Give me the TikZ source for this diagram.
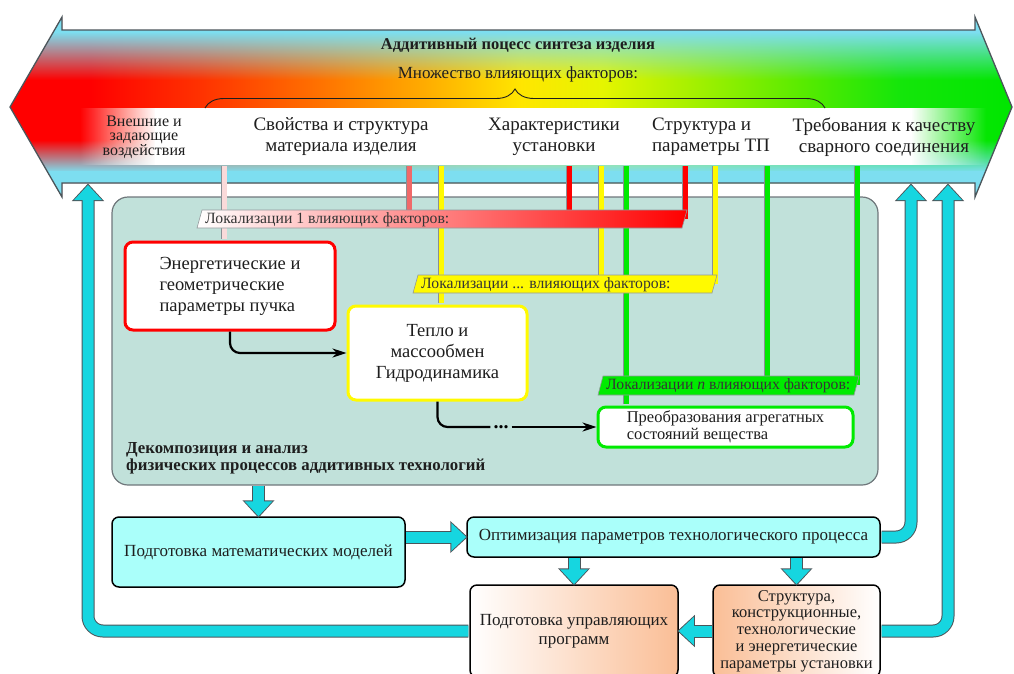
\documentclass[tikz,border=0pt]{standalone}
\usepackage{fontspec}
\setmainfont{Liberation Serif}
\usetikzlibrary{arrows.meta,decorations.pathreplacing,fadings}

\definecolor{inkgray}{RGB}{30,30,30}
\definecolor{edgegray}{RGB}{75,85,90}
\definecolor{tealbg}{RGB}{193,225,218}
\definecolor{boxcyan}{RGB}{170,255,250}
\definecolor{flowcyan}{RGB}{22,214,224}
\definecolor{skyband}{RGB}{125,222,240}
\definecolor{peach}{RGB}{250,190,150}
\definecolor{factpink}{RGB}{250,218,218}
\definecolor{factsalmon}{RGB}{240,105,105}
\definecolor{factred}{RGB}{255,0,0}
\definecolor{factyellow}{RGB}{255,250,0}
\definecolor{factgreen}{RGB}{0,235,0}
\definecolor{procA}{RGB}{255,50,0}
\definecolor{procB}{RGB}{255,120,0}
\definecolor{procC}{RGB}{255,170,0}
\definecolor{procD}{RGB}{255,230,0}
\definecolor{procE}{RGB}{230,245,0}
\definecolor{procF}{RGB}{160,240,0}
\definecolor{procG}{RGB}{90,235,0}
\definecolor{procH}{RGB}{20,230,10}
\definecolor{procI}{RGB}{0,230,0}

\pgfdeclarehorizontalshading{processshade}{100bp}{color(0bp)=(factred); color(29bp)=(factred);
  color(34.5bp)=(procA); color(41bp)=(procB); color(45.5bp)=(procC); color(50.5bp)=(procD);
  color(54.5bp)=(procE); color(59.4bp)=(procF); color(64.4bp)=(procG); color(69.4bp)=(procH);
  color(75bp)=(procI); color(100bp)=(procI)}

\tikzfading[name=fadedown, top color=transparent!0, bottom color=transparent!100]
\tikzfading[name=fadeup, top color=transparent!100, bottom color=transparent!0]
\tikzfading[name=fadein, left color=transparent!100, right color=transparent!0]
\tikzfading[name=fadeout, left color=transparent!0, right color=transparent!100]

\tikzset{
  procarrow/.style={insert path={(10,107) -- (62,17) -- (62,30) -- (975,30) -- (975,17)
      -- (1012,107) -- (975,197) -- (975,183) -- (62,183) -- (62,197) -- cycle}},
  factortext/.style={font=\fontsize{19}{21}\selectfont, text=inkgray, align=center, inner sep=0pt},
  localtext/.style={font=\fontsize{15.7}{17}\selectfont, text=inkgray!90, anchor=west, inner sep=0pt},
  framebox/.style={draw=edgegray!80, line width=1.2pt, fill=tealbg, rounded corners=16pt},
  roundbox/.style={draw=#1, line width=3pt, fill=white, rounded corners=8pt,
      font=\fontsize{18.5}{21}\selectfont, text=inkgray},
  planbox/.style={draw=black, line width=1.5pt, rounded corners=7pt,
      font=\fontsize{17}{19}\selectfont, text=inkgray, align=center},
  factorline/.style={draw=#1, line width=5pt, preaction={draw=edgegray!65, line width=6.6pt}},
  bar/.style={draw=edgegray!60, line width=0.6pt},
  flowarrow/.style={draw=black, line width=2.2pt, -{Stealth[length=14pt,width=9pt]}},
  flowline/.style={draw=black, line width=2.2pt},
  blockarrow/.style={draw=flowcyan, line width=11pt, -{Triangle[width=27pt,length=15pt]},
      preaction={draw=edgegray, line width=13pt, -{Triangle[width=31pt,length=17.5pt]}, shorten >=-1.5pt}}
}

\begin{document}
\begin{tikzpicture}[x=1pt, y=-1pt]
\path[use as bounding box] (0,0) rectangle (1014,673);
\clip (0,0) rectangle (1014,673);

% decomposition frame
\node[framebox, minimum width=766pt, minimum height=288pt] (frame) at (495,341) {};

% the process arrow
\shade[shading=processshade, procarrow];
\begin{scope}
  \clip[procarrow];
  \fill[skyband] (0,10) rectangle (1014,33);
  \fill[skyband, path fading=fadedown] (0,32) rectangle (1014,80);
  \fill[skyband, path fading=fadeup] (0,140) rectangle (1014,172);
  \fill[skyband] (0,171) rectangle (1014,200);
\end{scope}
\draw[edgegray, line width=1.3pt, procarrow];
\fill[white, path fading=fadein] (80,108) rectangle (156,165);
\fill[white] (155,108) rectangle (912,165);
\fill[white, path fading=fadeout] (911,108) rectangle (986,165);
\draw[decorate, decoration={brace, amplitude=19pt}, line width=0.9pt, inkgray] (205,108) -- (825,108);

\node[font=\bfseries\fontsize{16.5}{18}\selectfont, text=inkgray] (title) at (518,45) {Аддитивный поцесс синтеза изделия};
\node[font=\fontsize{17}{19}\selectfont, text=inkgray] (factset) at (518,74) {Множество влияющих факторов:};
\node[factortext, font=\fontsize{16}{14.5}\selectfont] (external) at (144,137) {Внешние и\\задающие\\воздействия};
\node[factortext] (material) at (341,137) {Свойства и структура\\материала изделия};
\node[factortext] (device) at (554,137) {Характеристики\\установки};
\node[factortext, align=left] (tpparam) at (711,137) {Структура и\\параметры ТП};
\node[factortext] (quality) at (884,137) {Требования к качеству\\сварного соединения};

% physical processes
\node[roundbox=factred, minimum width=210pt, minimum height=88pt, align=left] (beam) at (230,286) {Энергетические и\\геометрические\\параметры пучка};
\node[roundbox=factyellow, minimum width=179pt, minimum height=94pt, align=center] (heat) at (437.5,353) {Тепло и\\массообмен\\Гидродинамика};
\node[roundbox=factgreen, font=\fontsize{16.5}{17.5}\selectfont, minimum width=255pt, minimum height=40pt, align=left] (phase) at (725.5,427) {Преобразования агрегатных\\состояний вещества};

% influence lines
\draw[factorline=factpink] (224,166) -- ([xshift=-6pt, yshift=1.5pt]beam.north);
\foreach \x/\c in {409/factsalmon, 569/factred, 685/factred}
  \draw[factorline=\c] (\x,166) -- (\x,219);
\draw[factorline=factyellow] (441,166) -- ([xshift=3.5pt, yshift=1.5pt]heat.north);
\foreach \x in {601, 715}
  \draw[factorline=factyellow] (\x,166) -- (\x,284);
\draw[factorline=factgreen] (626,166) -- ([xshift=-99.5pt, yshift=1.5pt]phase.north);
\foreach \x in {767, 857}
  \draw[factorline=factgreen] (\x,166) -- (\x,385);

% localisation bars
\shade[bar, left color=white, middle color=factred!50!white, right color=factred] (197,228) -- (202,210) -- (687,210) -- (682,228) -- cycle;
\node[localtext] (loc1) at (205,219.5) {Локализации 1 влияющих факторов:};
\fill[bar, fill=factyellow] (413,293) -- (418,275) -- (717,275) -- (712,293) -- cycle;
\node[localtext] (locdots) at (421,284.5) {Локализации ... влияющих факторов:};
\fill[bar, fill=factgreen] (598,395) -- (603,376) -- (859,376) -- (854,395) -- cycle;
\node[localtext] (locn) at (606,386) {Локализации \textit{n} влияющих факторов:};

\draw[flowarrow, rounded corners=10pt] (beam.south) |- (heat.west);
\node[font=\bfseries\fontsize{20}{20}\selectfont, inner sep=3pt] (gap) at (501,427) {...};
\draw[flowline, rounded corners=10pt] (heat.south) |- (gap.west);
\draw[flowarrow] (gap.east) -- (phase.west);

\node[anchor=west, align=left, inner sep=0pt, text=inkgray, font=\bfseries\fontsize{16.8}{17}\selectfont] (decomp) at (126,458) {Декомпозиция и анализ\\физических процессов аддитивных технологий};

% planning
\node[planbox, fill=boxcyan, minimum width=293pt, minimum height=70pt] (models) at (258.5,552) {Подготовка математических моделей};
\node[planbox, fill=boxcyan, minimum width=413pt, minimum height=40pt] (optim) at (673.5,537) {Оптимизация параметров технологического процесса};
\node[planbox, left color=white, right color=peach, minimum width=208pt, minimum height=92pt] (prog) at (574,631) {Подготовка управляющих\\программ};
\node[planbox, left color=peach, right color=white, font=\fontsize{16.5}{16.8}\selectfont, minimum width=167pt, minimum height=92pt] (setup) at (796.5,631) {Структура,\\конструкционные,\\технологические\\и энергетические\\параметры установки};

\coordinate (backL) at (88,185);
\coordinate (backR) at (911,185);
\coordinate (backRR) at (948,185);

\draw[blockarrow] (models.north |- frame.south) -- (models.north);
\draw[blockarrow] (models.east |- optim.west) -- (optim.west);
\draw[blockarrow] (prog.north |- optim.south) -- (prog.north);
\draw[blockarrow] (setup.north |- optim.south) -- (setup.north);
\draw[blockarrow] (setup.west) -- (prog.east);
\draw[blockarrow, rounded corners=15pt] ([xshift=-0.8pt]prog.west) -| (backL);
\draw[blockarrow, rounded corners=15pt] ([xshift=0.8pt]optim.east) -| (backR);
\draw[blockarrow, rounded corners=15pt] ([xshift=0.8pt]setup.east) -| (backRR);
\end{tikzpicture}
\end{document}
